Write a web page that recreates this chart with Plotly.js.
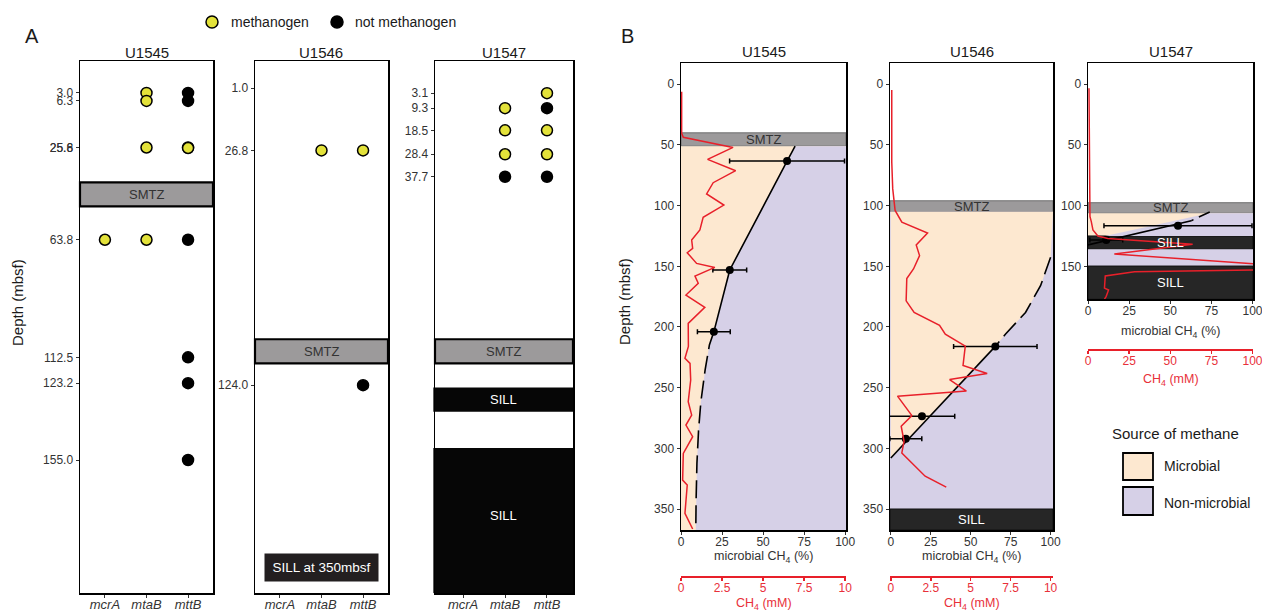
<!DOCTYPE html>
<html><head><meta charset="utf-8">
<script src="https://cdn.plot.ly/plotly-3.0.1.min.js"></script>
<style>html,body{margin:0;padding:0;background:#fff;} #chart{width:1262px;height:611px;}</style>
</head><body><div id="chart"></div>
<script>
// ================= DATA =================
// ---- Panel A: gene detections (depth, mbsf) ----
const genes = ['mcrA', 'mtaB', 'mttB'];
const a1545_methGene  = ['mtaB', 'mtaB', 'mtaB', 'mttB', 'mttB', 'mcrA', 'mtaB'];
const a1545_methDepth = [3.0, 6.3, 25.6, 25.6, 25.8, 63.8, 63.8];
const a1545_notGene   = ['mttB', 'mttB', 'mttB', 'mttB', 'mttB', 'mttB'];
const a1545_notDepth  = [3.0, 6.3, 63.8, 112.5, 123.2, 155.0];
const a1546_methGene  = ['mtaB', 'mttB'];
const a1546_methDepth = [26.8, 26.8];
const a1546_notGene   = ['mttB'];
const a1546_notDepth  = [124.0];
const a1547_methGene  = ['mttB', 'mtaB', 'mtaB', 'mttB', 'mtaB', 'mttB'];
const a1547_methDepth = [3.1, 9.3, 18.5, 18.5, 28.4, 28.4];
const a1547_notGene   = ['mttB', 'mtaB', 'mttB'];
const a1547_notDepth  = [9.3, 37.7, 37.7];
const a1545_ticks = [3.0, 6.3, 25.6, 25.8, 63.8, 112.5, 123.2, 155.0];
const a1546_ticks = [1.0, 26.8, 124.0];
const a1547_ticks = [3.1, 9.3, 18.5, 28.4, 37.7];
const a1545_smtz  = [40, 50];
const a1546_smtz  = [105, 115];
const a1547_smtz  = [105, 115];
const a1547_sill1 = [125, 135];
const a1547_sill2 = [150, 210.2];

// ---- Panel B: microbial CH4 fraction (%) and CH4 concentration (mM) ----
const pctTicks = [0, 25, 50, 75, 100];
const mm10Ticks = [0, 2.5, 5, 7.5, 10];
const mm100Ticks = [0, 25, 50, 75, 100];
const b_depthTicks = [0, 50, 100, 150, 200, 250, 300, 350];
const b1547_depthTicks = [0, 50, 100, 150];

// U1545
const b1545_smtz = [40, 51];
const b1545_ptDepth = [63.3, 153, 204];
const b1545_ptPct   = [64.6, 29.7, 20.0];
const b1545_ptErr   = [35, 10.3, 10];
const b1545_fitDepth = [51, 63.3, 153, 204];
const b1545_fitPct   = [69.5, 64.6, 29.7, 20.0];
const b1545_extDepth = [204, 214.8, 235.4, 261.6, 284.9, 312.4, 342.6, 367.3];
const b1545_extPct   = [20.0, 17.3, 14.7, 12.1, 10.7, 9.7, 9.2, 9.0];
const b1545_ch4Depth = [6.1, 40.4, 43.7, 52, 61.9, 71.2, 81.1, 90.4, 99.5, 109.6, 120, 128.3, 135.2, 138.8, 147.6, 150.9, 158, 164, 173.7, 183.8, 197, 216, 225.8, 230, 243.7, 261.6, 272.6, 280.8, 290.4, 304.2, 326.2, 330.3, 353.6, 366.5];
const b1545_ch4mM    = [0.04, 0.04, 0.14, 3.17, 1.62, 3.33, 1.96, 1.56, 2.61, 1.35, 1.15, 0.65, 0.71, 0.38, 0.95, 2.06, 0.85, 1.05, 0.30, 1.45, 0.44, 0.45, 0.24, 0.55, 0.59, 0.44, 0.65, 0.30, 0.71, 0.14, 0.10, 0.38, 0.24, 0.71];

// U1546
const b1546_smtz = [96, 105];
const b1546_sill = [350, 367.3];
const b1546_ptDepth = [216, 273.6, 292];
const b1546_ptPct   = [65.4, 19.5, 9.4];
const b1546_ptErr   = [26.1, 20.5, 10];
const b1546_extDepth = [142.6, 166, 188, 206, 216];
const b1546_extPct   = [100, 93.7, 84.3, 71.7, 65.4];
const b1546_fitDepth = [216, 308];
const b1546_fitPct   = [65.4, 0];
const b1546_ch4Depth = [4.7, 64, 86, 104, 113.6, 122.5, 132.4, 141.2, 152.2, 160, 178.5, 188, 198.6, 206, 215.7, 231.7, 238.3, 243.3, 252.8, 257, 273, 281.8, 294.2, 303.8, 323, 332];
const b1546_ch4mM    = [0.06, 0.06, 0.12, 0.27, 0.69, 2.30, 1.59, 1.80, 1.42, 1.00, 0.96, 1.46, 3.05, 3.41, 4.66, 4.52, 6.03, 3.68, 4.73, 0.42, 1.32, 0.65, 0.83, 0.69, 2.15, 3.47];

// U1547
const b1547_smtz  = [97.6, 106.3];
const b1547_microb = [106.3, 125];
const b1547_sill1 = [125, 136];
const b1547_nonmic = [136, 149.8];
const b1547_sill2 = [149.8, 177.2];
const b1547_ptDepth = [116.5, 128.3];
const b1547_ptPct   = [54.7, 11.1];
const b1547_ptErr   = [45, 10];
const b1547_extDepth = [105.2, 112.4];
const b1547_extPct   = [74, 62.8];
const b1547_fitDepth = [112.4, 132.4];
const b1547_fitPct   = [62.8, 0];
const b1547_bndDepth = [106.3, 125];
const b1547_bndPct   = [73.5, 10.4];
const b1547_ch4Depth = [3.3, 109, 113.2, 120, 125, 127, 131.9, 139.9, 148, 153, 154.4, 158, 168, 169.5, 175, 177];
const b1547_ch4mM    = [0.6, 1.2, 2, 3, 6, 12, 63.6, 16, 101, 101, 28.3, 10.5, 10, 12.5, 11, 10];

// ================= STYLE / LAYOUT =================
const W = 1262, H = 611;
const px = x => x / W;
const py = y => 1 - y / H;
const FONT = 'Liberation Sans, Arial, Helvetica, sans-serif';
const RED = '#e8202a';
const REDT = '#e8303a';
const YEL = '#e3e23a';
const PEACH = '#fde8d0';
const LAV = '#d6d0e7';
const SMTZC = '#9c9a9b';
const SILLC = '#262626';

function base(extra) {
  return Object.assign({
    showgrid: false, zeroline: false, showline: true, mirror: true,
    linecolor: '#000', linewidth: 1.5, ticks: 'outside', ticklen: 3, tickwidth: 1,
    tickcolor: '#333', tickfont: {family: FONT, size: 12, color: '#333'}, fixedrange: true,
    ticklabeloverflow: 'allow'
  }, extra);
}
function catAxis(xr, yid, range) {
  return base({domain: [px(xr[0]), px(xr[1])], anchor: yid, type: 'category',
    categoryorder: 'array', categoryarray: genes, range: range,
    tickmode: 'array', tickvals: genes, ticktext: genes.map(g => '<i>' + g + '</i>'),
    tickfont: {family: FONT, size: 13, color: '#333'}, ticklabelstandoff: -4});
}
function depthA(xid, ticks) {
  return base({domain: [py(593.3), py(61.3)], anchor: xid, range: [210.2, -10.1],
    tickmode: 'array', tickvals: ticks, ticktext: ticks.map(v => v.toFixed(1))});
}
function pctAxis(xr, yid, range) {
  return base({domain: [px(xr[0]), px(xr[1])], anchor: yid, range: range,
    tickmode: 'array', tickvals: pctTicks, ticktext: pctTicks.map(String), ticklabelstandoff: -3});
}
function depthB(xid, yr, range, ticks) {
  return base({domain: [py(yr[1]), py(yr[0])], anchor: xid, range: range,
    tickmode: 'array', tickvals: ticks, ticktext: ticks.map(String)});
}
function redAxis(over, ypos, range, ticks) {
  return {overlaying: over, anchor: 'free', position: py(ypos), side: 'bottom', range: range,
    showgrid: false, zeroline: false, showline: true, linecolor: RED, linewidth: 2,
    ticks: 'outside', ticklen: 3, tickwidth: 1.5, tickcolor: RED, ticklabeloverflow: 'allow',
    tickmode: 'array', tickvals: ticks, ticktext: ticks.map(String), ticklabelstandoff: -3,
    tickfont: {family: FONT, size: 12, color: REDT}, fixedrange: true};
}

const traces = [];
function dots(xid, yid, g, d, fill) {
  traces.push({type: 'scatter', mode: 'markers', x: g, y: d, xaxis: xid, yaxis: yid,
    marker: {size: 11, color: fill, line: {color: '#000', width: 1.5}}, hoverinfo: 'skip', cliponaxis: false});
}
dots('x', 'y', a1545_methGene, a1545_methDepth, YEL);
dots('x', 'y', a1545_notGene, a1545_notDepth, '#000');
dots('x2', 'y2', a1546_methGene, a1546_methDepth, YEL);
dots('x2', 'y2', a1546_notGene, a1546_notDepth, '#000');
dots('x3', 'y3', a1547_methGene, a1547_methDepth, YEL);
dots('x3', 'y3', a1547_notGene, a1547_notDepth, '#000');

// Panel B fills
function poly(xid, yid, xs, ys, color) {
  traces.push({type: 'scatter', mode: 'lines', x: xs, y: ys, xaxis: xid, yaxis: yid,
    fill: 'toself', fillcolor: color, line: {width: 0, color: color}, hoverinfo: 'skip'});
}
poly('x4', 'y4',
  b1545_fitPct.concat(b1545_extPct.slice(1), [100.5, 100.5]),
  b1545_fitDepth.concat(b1545_extDepth.slice(1), [b1545_extDepth[b1545_extDepth.length - 1], b1545_fitDepth[0]]), LAV);
poly('x5', 'y5',
  [0, 101.5].concat(b1546_extPct, [b1546_fitPct[1]]),
  [b1546_smtz[1], b1546_smtz[1]].concat(b1546_extDepth, [b1546_fitDepth[1]]), PEACH);
poly('x6', 'y6',
  b1547_bndPct.concat([100.3, 100.3]),
  b1547_bndDepth.concat([b1547_bndDepth[1], b1547_bndDepth[0]]), LAV);

function line(xid, yid, xs, ys, dash) {
  traces.push({type: 'scatter', mode: 'lines', x: xs, y: ys, xaxis: xid, yaxis: yid,
    line: {color: '#000', width: 1.6, dash: dash}, hoverinfo: 'skip'});
}
line('x4', 'y4', b1545_fitPct, b1545_fitDepth, 'solid');
line('x4', 'y4', b1545_extPct, b1545_extDepth, '18px,7px');
line('x5', 'y5', b1546_extPct, b1546_extDepth, '18px,7px');
line('x5', 'y5', b1546_fitPct, b1546_fitDepth, 'solid');
line('x6', 'y6', b1547_extPct, b1547_extDepth, '12px,6px');
line('x6', 'y6', b1547_fitPct, b1547_fitDepth, 'solid');

function pts(xid, yid, xs, ys, err) {
  traces.push({type: 'scatter', mode: 'markers', x: xs, y: ys, xaxis: xid, yaxis: yid,
    marker: {size: 8, color: '#000'},
    error_x: {type: 'data', array: err, visible: true, color: '#000', thickness: 1.5, width: 2.5},
    hoverinfo: 'skip'});
}
pts('x4', 'y4', b1545_ptPct, b1545_ptDepth, b1545_ptErr);
pts('x5', 'y5', b1546_ptPct, b1546_ptDepth, b1546_ptErr);
pts('x6', 'y6', b1547_ptPct, b1547_ptDepth, b1547_ptErr);

function ch4(xid, yid, xs, ys) {
  traces.push({type: 'scatter', mode: 'lines', x: xs, y: ys, xaxis: xid, yaxis: yid,
    line: {color: RED, width: 1.5}, hoverinfo: 'skip'});
}
ch4('x7', 'y4', b1545_ch4mM, b1545_ch4Depth);
ch4('x8', 'y5', b1546_ch4mM, b1546_ch4Depth);
ch4('x9', 'y6', b1547_ch4mM, b1547_ch4Depth);

// ---- shapes ----
const shapes = [];
function band(xid, yid, r, fill, lw, lc, ext) {
  const e = ext || 0;
  shapes.push({type: 'rect', xref: xid + ' domain', yref: yid, x0: -e, x1: 1 + e, y0: r[0], y1: r[1],
    fillcolor: fill, line: {width: lw, color: lc || fill}, layer: 'below'});
}
band('x', 'y', a1545_smtz, SMTZC, 2.2, '#000');
band('x2', 'y2', a1546_smtz, SMTZC, 2.2, '#000');
band('x3', 'y3', a1547_smtz, SMTZC, 2.2, '#000');
band('x3', 'y3', a1547_sill1, '#060606', 0, null, 0.012);
band('x3', 'y3', a1547_sill2, '#060606', 0, null, 0.012);
band('x4', 'y4', b1545_smtz, SMTZC, 1, '#6e6e6e');
band('x4', 'y4', [b1545_smtz[1], b1545_extDepth[b1545_extDepth.length - 1]], PEACH, 0);
band('x5', 'y5', b1546_smtz, SMTZC, 1, '#6e6e6e');
band('x5', 'y5', [b1546_smtz[1], b1546_sill[0]], LAV, 0);
band('x5', 'y5', b1546_sill, SILLC, 1, '#111');
band('x6', 'y6', b1547_smtz, SMTZC, 1, '#6e6e6e');
band('x6', 'y6', b1547_microb, PEACH, 0);
band('x6', 'y6', b1547_sill1, SILLC, 1, '#111');
band('x6', 'y6', b1547_nonmic, LAV, 0);
band('x6', 'y6', b1547_sill2, SILLC, 1, '#111');

// legend symbols
shapes.push({type: 'circle', xref: 'paper', yref: 'paper', x0: px(206), x1: px(218), y0: py(28), y1: py(16), fillcolor: YEL, line: {color: '#000', width: 1.5}});
shapes.push({type: 'circle', xref: 'paper', yref: 'paper', x0: px(331), x1: px(343), y0: py(28), y1: py(16), fillcolor: '#000', line: {color: '#000', width: 1.5}});
shapes.push({type: 'rect', xref: 'paper', yref: 'paper', x0: px(1123), x1: px(1153), y0: py(480), y1: py(453), fillcolor: PEACH, line: {color: '#000', width: 1.8}});
shapes.push({type: 'rect', xref: 'paper', yref: 'paper', x0: px(1123), x1: px(1153), y0: py(515), y1: py(487), fillcolor: LAV, line: {color: '#000', width: 1.8}});

// ---- annotations ----
const ann = [];
function txt(x, y, t, size, color, extra) {
  ann.push(Object.assign({xref: 'paper', yref: 'paper', x: px(x), y: py(y), text: t, showarrow: false,
    font: {family: FONT, size: size, color: color}, xanchor: 'center', yanchor: 'middle'}, extra || {}));
}
function inBand(xid, yid, r, t, color, size) {
  ann.push({xref: xid + ' domain', yref: yid, x: 0.5, y: (r[0] + r[1]) / 2, text: t, showarrow: false,
    font: {family: FONT, size: size || 13, color: color}, xanchor: 'center', yanchor: 'middle'});
}
txt(32, 36, 'A', 20, '#1a1a1a');
txt(627, 36, 'B', 20, '#1a1a1a');
txt(229, 22, 'methanogen', 14, '#1a1a1a', {xanchor: 'left'});
txt(353, 22, 'not methanogen', 14, '#1a1a1a', {xanchor: 'left'});
txt(146.5, 52, 'U1545', 15, '#1a1a1a');
txt(321.5, 52, 'U1546', 15, '#1a1a1a');
txt(504, 52, 'U1547', 15, '#1a1a1a');
txt(763.5, 51, 'U1545', 15, '#1a1a1a');
txt(971.5, 51, 'U1546', 15, '#1a1a1a');
txt(1170.5, 51, 'U1547', 15, '#1a1a1a');
txt(17, 303, 'Depth (mbsf)', 15, '#1a1a1a', {textangle: -90});
txt(625, 302, 'Depth (mbsf)', 15, '#1a1a1a', {textangle: -90});
inBand('x', 'y', a1545_smtz, 'SMTZ', '#333');
inBand('x2', 'y2', a1546_smtz, 'SMTZ', '#333');
inBand('x3', 'y3', a1547_smtz, 'SMTZ', '#333');
inBand('x3', 'y3', a1547_sill1, 'SILL', '#fff');
inBand('x3', 'y3', [a1547_sill2[0], 206], 'SILL', '#fff');
ann.push({xref: 'x2 domain', yref: 'y2', x: 0.5, y: 199.5, text: 'SILL at 350mbsf', showarrow: false,
  font: {family: FONT, size: 13.5, color: '#fff'}, bgcolor: '#231f20', width: 113, height: 27, borderpad: 0,
  xanchor: 'center', yanchor: 'middle'});
inBand('x4', 'y4', b1545_smtz, 'SMTZ', '#333');
inBand('x5', 'y5', b1546_smtz, 'SMTZ', '#333');
inBand('x5', 'y5', b1546_sill, 'SILL', '#fff');
inBand('x6', 'y6', b1547_smtz, 'SMTZ', '#333');
inBand('x6', 'y6', b1547_sill1, 'SILL', '#fff');
inBand('x6', 'y6', b1547_sill2, 'SILL', '#fff');
txt(763.5, 557, 'microbial CH<sub>4</sub> (%)', 12.5, '#333');
txt(971.5, 557, 'microbial CH<sub>4</sub> (%)', 12.5, '#333');
txt(1170.5, 332, 'microbial CH<sub>4</sub> (%)', 12.5, '#333');
txt(763.5, 604, 'CH<sub>4</sub> (mM)', 12.5, REDT);
txt(971.5, 604, 'CH<sub>4</sub> (mM)', 12.5, REDT);
txt(1170.5, 380, 'CH<sub>4</sub> (mM)', 12.5, REDT);
txt(1110, 433, 'Source of methane', 15, '#1a1a1a', {xanchor: 'left'});
txt(1162, 466, 'Microbial', 14, '#1a1a1a', {xanchor: 'left'});
txt(1162, 503, 'Non-microbial', 14, '#1a1a1a', {xanchor: 'left'});

const layout = {
  width: W, height: H, margin: {l: 0, r: 0, t: 0, b: 0},
  paper_bgcolor: '#fff', plot_bgcolor: 'rgba(0,0,0,0)', showlegend: false,
  font: {family: FONT, color: '#333'},
  xaxis: catAxis([80, 213], 'y', [-0.6, 2.6]),
  xaxis2: catAxis([255, 388], 'y2', [-0.6, 2.6]),
  xaxis3: catAxis([435, 573], 'y3', [-0.67, 2.62]),
  yaxis: depthA('x', a1545_ticks),
  yaxis2: depthA('x2', a1546_ticks),
  yaxis3: depthA('x3', a1547_ticks),
  xaxis4: pctAxis([681, 846], 'y4', [0, 100.5]),
  xaxis5: pctAxis([890, 1053], 'y5', [-0.5, 101.5]),
  xaxis6: pctAxis([1088, 1253], 'y6', [0, 100.3]),
  yaxis4: depthB('x4', [63.3, 530], [367.3, -17.3], b_depthTicks),
  yaxis5: depthB('x5', [63.3, 530], [367.3, -17.3], b_depthTicks),
  yaxis6: depthB('x6', [63.3, 299.3], [177.2, -17.3], b1547_depthTicks),
  xaxis7: redAxis('x4', 576.7, [0, 10.05], mm10Ticks),
  xaxis8: redAxis('x5', 576.7, [-0.05, 10.15], mm10Ticks),
  xaxis9: redAxis('x6', 350, [0, 100.3], mm100Ticks),
  shapes: shapes,
  annotations: ann
};
Plotly.newPlot('chart', traces, layout, {displayModeBar: false, staticPlot: true});
</script>
</body></html>
